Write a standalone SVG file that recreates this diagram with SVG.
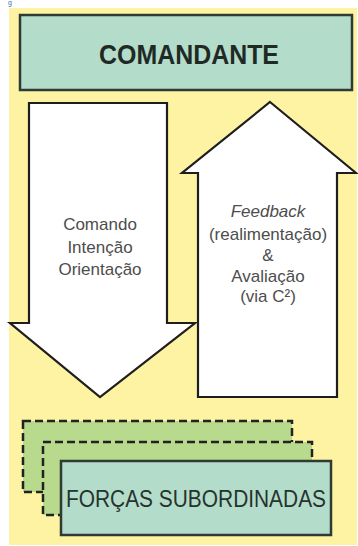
<svg xmlns="http://www.w3.org/2000/svg" width="358" height="546" viewBox="0 0 358 546">
<style>
.box{fill:#b4dccb;stroke:#2f3a33;stroke-width:2.5}
.dash{fill:#b7da8c;stroke:#222;stroke-width:2.5;stroke-dasharray:8 4}
.arrow{fill:#ffffff;stroke:#1e1e1e;stroke-width:2.2;stroke-linejoin:miter}
.lbl{font-family:"Liberation Sans",Arial,sans-serif;fill:#4d4d4d;font-size:17px;text-anchor:middle}
.title{font-family:"Liberation Sans",Arial,sans-serif;fill:#1f2a25;font-weight:bold;text-anchor:middle}
</style>
<rect x="0" y="0" width="358" height="546" fill="#ffffff"/>
<text x="8" y="5" font-family="Liberation Sans, sans-serif" font-size="7" fill="#3a6fb0">g</text>
<rect x="9" y="8" width="348" height="537" fill="#fdf3a3"/>
<g id="comandante">
<rect class="box" x="20" y="15" width="332" height="75"/>
<text class="title" x="189" y="64" font-size="27" textLength="180" lengthAdjust="spacingAndGlyphs">COMANDANTE</text>
</g>
<g id="connectors">
<g id="arrow-down">
<polygon class="arrow" points="29,103 167,103 167,323 195,323 100,397 10,323 29,323"/>
<text class="lbl" x="100" y="230" font-size="18">Comando</text>
<text class="lbl" x="100" y="253" font-size="18">Intenção</text>
<text class="lbl" x="100" y="275" font-size="18">Orientação</text>
</g>
<g id="arrow-up">
<polygon class="arrow" points="270,102 356,173 337,173 337,397 198,397 198,173 182,173"/>
<text class="lbl" x="268" y="217" font-style="italic">Feedback</text>
<text class="lbl" x="268" y="240">(realimentação)</text>
<text class="lbl" x="268" y="261">&amp;</text>
<text class="lbl" x="268" y="282">Avaliação</text>
<text class="lbl" x="268" y="302">(via C²)</text>
</g>
</g>
<g id="forcas">
<rect class="dash" x="23" y="421" width="269" height="71"/>
<rect class="dash" x="43" y="442" width="269" height="73"/>
<rect class="box" x="61" y="461" width="270" height="74"/>
<text class="title" x="196" y="507" font-size="23" textLength="260" lengthAdjust="spacingAndGlyphs" style="font-weight:normal;fill:#26332e">FORÇAS SUBORDINADAS</text>
</g>
</svg>
